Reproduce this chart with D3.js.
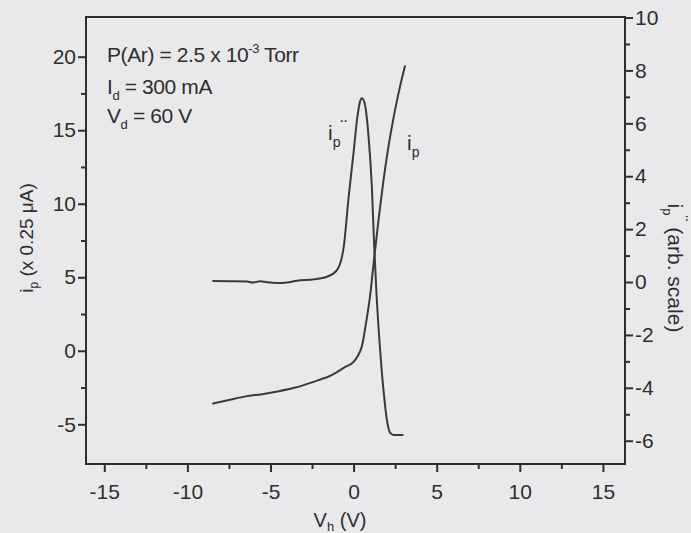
<!DOCTYPE html>
<html>
<head>
<meta charset="utf-8">
<script src="https://cdn.jsdelivr.net/npm/d3@7"></script>
<style>
  body { margin: 0; background: #e9e9ec; }
  svg { display: block; }
</style>
</head>
<body>
<script>
// probe current i_p (left axis, x 0.25 uA) vs hot probe bias V_h
const ipV   = [-8.5, -7.5, -6.5, -5.5, -4.5, -3.5, -2.5, -2.0, -1.5, -1.0, -0.5, 0.0, 0.25, 0.5, 0.75, 1.0, 1.2, 1.5, 1.8, 2.1, 2.5, 2.8, 3.1];
const ipVal = [-3.6, -3.35, -3.1, -2.95, -2.75, -2.5, -2.15, -1.95, -1.75, -1.45, -1.1, -0.75, -0.35, 0.3, 1.9, 3.8, 5.9, 8.9, 11.6, 13.9, 16.4, 18.0, 19.4];

// second derivative i_p'' (right axis, arb. scale)
const ddV   = [-8.5, -7.4, -6.4, -6.1, -5.6, -5.2, -4.6, -4.0, -3.4, -2.4, -1.6, -1.0, -0.6, -0.3, 0.0, 0.23, 0.4, 0.5, 0.65, 0.9, 1.1, 1.25, 1.4, 1.6, 1.8, 2.0, 2.2, 2.4, 2.6, 3.0];
const ddVal = [0.04, 0.03, 0.02, -0.02, 0.03, -0.01, -0.04, -0.02, 0.05, 0.1, 0.2, 0.45, 1.3, 3.2, 4.9, 6.25, 6.85, 6.95, 6.8, 5.5, 3.6, 1.2, -0.7, -2.6, -4.1, -5.2, -5.7, -5.78, -5.78, -5.78];

// tick labels
const xTicks  = [-15, -10, -5, 0, 5, 10, 15];
const xMinor  = [-12.5, -7.5, -2.5, 2.5, 7.5, 12.5];
const yLTicks = [-5, 0, 5, 10, 15, 20];
const yLMinor = [-2.5, 2.5, 7.5, 12.5, 17.5];
const yRTicks = [-6, -4, -2, 0, 2, 4, 6, 8, 10];
const yRMinor = [-5, -3, -1, 1, 3, 5, 7, 9];

function init() {
  const W = 691, H = 533;
  const L = 86, R = 625, T = 17, B = 464;
  const FONT = "'Liberation Sans', Arial, sans-serif";
  const INK = "#2e2e2e";

  const svg = d3.select("body").append("svg")
    .attr("width", W)
    .attr("height", H)
    .style("background-color", "#e9e9ec")
    .attr("font-family", FONT)
  ;

  const x  = d3.scaleLinear().domain([-16.1, 16.33]).range([L, R]);
  const yL = d3.scaleLinear().domain([-7.7, 22.7]).range([B, T]);
  const yR = d3.scaleLinear().domain([-6.88, 10.02]).range([B, T]);

  const fmt = d => String(d); // keep plain hyphen minus

  // axes (major + minor)
  function axis(gen, tr) {
    const g = svg.append("g").attr("transform", tr).call(gen);
    g.select(".domain").remove();
    g.attr("font-size", 21).attr("font-family", FONT);
    g.selectAll("line").attr("stroke", INK).attr("stroke-width", 2);
    g.selectAll("text").attr("fill", INK);
    return g;
  }
  axis(d3.axisBottom(x).tickValues(xTicks).tickSize(8).tickPadding(12).tickFormat(fmt), `translate(0,${B})`);
  axis(d3.axisBottom(x).tickValues(xMinor).tickSize(5).tickFormat(""), `translate(0,${B})`);
  axis(d3.axisLeft(yL).tickValues(yLTicks).tickSize(8).tickPadding(2).tickFormat(fmt), `translate(${L},0)`);
  axis(d3.axisLeft(yL).tickValues(yLMinor).tickSize(5).tickFormat(""), `translate(${L},0)`);
  axis(d3.axisRight(yR).tickValues(yRTicks).tickSize(8).tickPadding(2).tickFormat(fmt), `translate(${R},0)`);
  axis(d3.axisRight(yR).tickValues(yRMinor).tickSize(5).tickFormat(""), `translate(${R},0)`);

  // frame
  svg.append("rect")
    .attr("x", L).attr("y", T)
    .attr("width", R - L).attr("height", B - T)
    .attr("fill", "none")
    .attr("stroke", INK)
    .attr("stroke-width", 2)
  ;

  // curves
  const ipLine = d3.line().x(d => x(d[0])).y(d => yL(d[1])).curve(d3.curveMonotoneX);
  const ddLine = d3.line().x(d => x(d[0])).y(d => yR(d[1])).curve(d3.curveMonotoneX);

  svg.append("path")
    .datum(d3.zip(ipV, ipVal))
    .attr("d", ipLine)
    .attr("fill", "none")
    .attr("stroke", "#3a3a3a")
    .attr("stroke-width", 2)
  ;
  svg.append("path")
    .datum(d3.zip(ddV, ddVal))
    .attr("d", ddLine)
    .attr("fill", "none")
    .attr("stroke", "#3a3a3a")
    .attr("stroke-width", 2)
  ;

  // helper: text made of pieces [str, size, dy]
  function rich(parent, pieces) {
    pieces.forEach(p => {
      parent.append("tspan")
        .attr("font-size", p[1])
        .attr("dy", p[2] || 0)
        .text(p[0]);
    });
    return parent;
  }

  // conditions text, top left
  const note = svg.append("g").attr("fill", INK).attr("letter-spacing", -0.4);
  rich(note.append("text").attr("x", 107).attr("y", 62),
    [["P(Ar) = 2.5 x 10", 21], ["-3", 13, -9], [" Torr", 21, 9]]);
  rich(note.append("text").attr("x", 107).attr("y", 94),
    [["I", 21], ["d", 13, 6], [" = 300 mA", 21, -6]]);
  rich(note.append("text").attr("x", 107).attr("y", 123),
    [["V", 21], ["d", 13, 6], [" = 60 V", 21, -6]]);

  // curve labels
  rich(svg.append("text").attr("x", 328).attr("y", 140).attr("fill", INK),
    [["i", 21], ["p", 14, 7], ["\u00a8", 20, -13]]);
  rich(svg.append("text").attr("x", 407).attr("y", 150).attr("fill", INK),
    [["i", 21], ["p", 14, 7]]);

  // axis titles
  rich(svg.append("text")
      .attr("x", 340).attr("y", 527)
      .attr("text-anchor", "middle")
      .attr("fill", INK),
    [["V", 20], ["h", 13, 4], [" (V)", 20, -4]]);

  rich(svg.append("text")
      .attr("transform", "translate(33,238) rotate(-90)")
      .attr("text-anchor", "middle")
      .attr("fill", INK),
    [["i", 19], ["p", 12, 5], [" (x 0.25  \u03bcA)", 19, -5]]);

  rich(svg.append("text")
      .attr("transform", "translate(668,268) rotate(90)")
      .attr("text-anchor", "middle")
      .attr("fill", INK),
    [["i", 21], ["p", 13, 5], ["\u00a8", 18, -12], [" (arb. scale)", 21, 7]]);
}

init();
</script>
</body>
</html>
